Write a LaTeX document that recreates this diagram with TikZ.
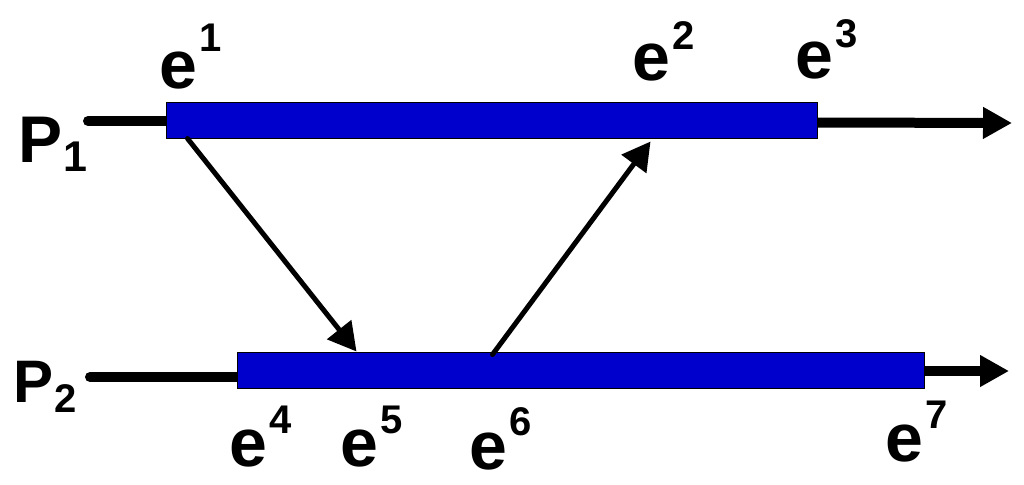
\documentclass[tikz,border=0pt]{standalone}
\usepackage{fontspec}
\setmainfont{Liberation Sans}
\usetikzlibrary{arrows.meta}
\definecolor{barblue}{RGB}{0,0,204}
\newcommand\elab[2]{{\fontsize{68}{68}\selectfont e}\kern3pt\raisebox{#2pt}{\fontsize{40}{40}\selectfont #1}}
\tikzset{
  bar/.style={draw=black, line width=1pt, fill=barblue, rectangle, inner sep=0pt},
  lab/.style={inner sep=0pt, outer sep=0pt, anchor=base west, font=\bfseries},
  proc/.style={line width=10pt, black},
  msg/.style={line width=5pt, black, line cap=round, -{Triangle[length=28pt 0 0, width=30pt 0 0]}},
  bigtip/.style={-{Triangle[length=29pt 0 0, width=30pt 0 0]}}
}
\begin{document}
\begin{tikzpicture}[x=1pt, y=-1pt]
\useasboundingbox (0,0) rectangle (1024,484);
% process lines (drawn under bars)
\coordinate (p1start) at (88,121);
\coordinate (p2start) at (90,377);
\coordinate (p1end) at (1012,123);
\coordinate (p2end) at (1009,371);
\draw[proc, line cap=round] (p1start) -- (166,121) coordinate (p1join);
\draw[proc, line cap=round] (p2start) -- (237,377) coordinate (p2join);
% bars
\node[bar, minimum width=651pt, minimum height=35pt] (bar1) at (491.5,120.5) {};
\node[bar, minimum width=687pt, minimum height=36pt] (bar2) at (580.5,370) {};
% outgoing arrows
\draw[proc, bigtip] ([yshift=-2pt]bar1.east) -- (p1end);
\draw[proc, bigtip] ([yshift=-1pt]bar2.east) -- (p2end);
% messages
\draw[msg] ([xshift=22pt]bar1.south west) -- ([xshift=120pt]bar2.north west);
\draw[msg] ([xshift=256pt,yshift=-3pt]bar2.north west) -- ([xshift=485pt,yshift=-3pt]bar1.south west);
% process labels
\node[lab] (P1) at (18,162) {{\fontsize{66}{66}\selectfont P}\kern1pt\raisebox{-9pt}{\fontsize{43}{43}\selectfont 1}};
\node[lab] (P2) at (13,402) {{\fontsize{60}{60}\selectfont P}\kern1pt\raisebox{-10pt}{\fontsize{40}{40}\selectfont 2}};
% event labels
\node[lab] (e1) at (159,89) {\elab{1}{37}};
\node[lab] (e2) at (632,81) {\elab{2}{31}};
\node[lab] (e3) at (795,79) {\elab{3}{31}};
\node[lab] (e4) at (229,466) {\elab{4}{33}};
\node[lab] (e5) at (340,466) {\elab{5}{33}};
\node[lab] (e6) at (469,469) {\elab{6}{34}};
\node[lab] (e7) at (885,461) {\elab{7}{33}};
\end{tikzpicture}
\end{document}
